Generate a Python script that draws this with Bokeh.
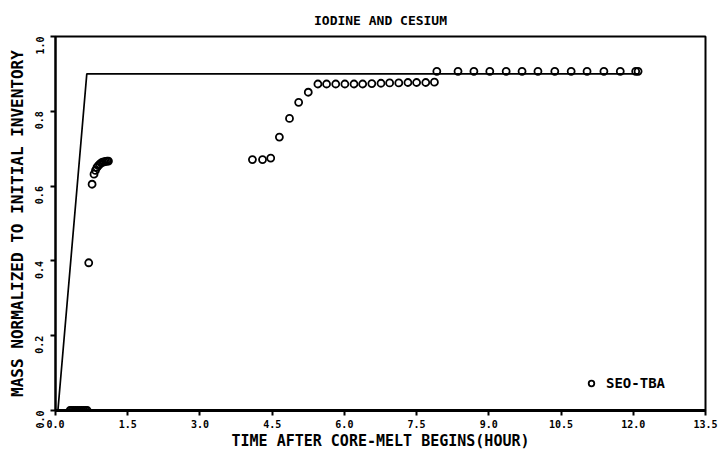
import math
from bokeh.plotting import figure
from bokeh.models import Range1d, FixedTicker, Legend, LegendItem
from bokeh.embed import file_html
from bokeh.resources import INLINE

# Calculated release curve (fraction of initial inventory vs hours)
calc_time = [0.05, 0.65, 12.12]
calc_mass = [0.0, 0.9, 0.9]

# SEO-TBA results
seo_time = [0.30, 0.34, 0.38, 0.42, 0.46, 0.50, 0.54, 0.58, 0.62, 0.66,
            0.69, 0.76,
            0.80, 0.83, 0.86, 0.89, 0.92, 0.95, 0.98, 1.01, 1.04, 1.07, 1.10,
            4.09, 4.30, 4.47, 4.65, 4.86, 5.05, 5.25,
            5.45, 5.63, 5.82, 6.01, 6.20, 6.38, 6.57, 6.76, 6.94, 7.13,
            7.32, 7.50, 7.69, 7.87,
            7.92, 8.36, 8.69, 9.02, 9.36, 9.69, 10.02, 10.37, 10.71, 11.04,
            11.39, 11.73, 12.05, 12.10]
seo_mass = [0.0, 0.0, 0.0, 0.0, 0.0, 0.0, 0.0, 0.0, 0.0, 0.0,
            0.395, 0.605,
            0.632, 0.642, 0.650, 0.655, 0.659, 0.662, 0.664, 0.665, 0.666, 0.667, 0.667,
            0.671, 0.671, 0.675, 0.731, 0.781, 0.824, 0.851,
            0.873, 0.873, 0.873, 0.873, 0.873, 0.873, 0.874, 0.875, 0.876, 0.876,
            0.877, 0.877, 0.877, 0.878,
            0.907, 0.907, 0.907, 0.907, 0.907, 0.907, 0.907, 0.907, 0.907, 0.907,
            0.907, 0.907, 0.907, 0.907]

x_ticks = [0.0, 1.5, 3.0, 4.5, 6.0, 7.5, 9.0, 10.5, 12.0, 13.5]
x_tick_labels = ["0.0", "1.5", "3.0", "4.5", "6.0", "7.5", "9.0", "10.5", "12.0", "13.5"]
y_ticks = [0.0, 0.2, 0.4, 0.6, 0.8, 1.0]
y_tick_labels = ["0.0", "0.2", "0.4", "0.6", "0.8", "1.0"]

FONT = "DejaVu Sans Mono"

p = figure(width=724, height=453, output_backend="svg", toolbar_location=None,
           x_range=Range1d(0, 13.5), y_range=Range1d(0, 1.0),
           min_border_left=55, min_border_right=19,
           min_border_top=36, min_border_bottom=43,
           title="IODINE AND CESIUM")

p.title.align = "center"
p.title.text_font = FONT
p.title.text_font_size = "13px"
p.title.text_font_style = "bold"
p.title.text_color = "black"
p.title.standoff = 17

p.grid.visible = False
p.outline_line_color = "black"
p.outline_line_width = 2
p.background_fill_color = "white"
p.border_fill_color = "white"

xa = p.xaxis[0]
xa.ticker = FixedTicker(ticks=x_ticks)
xa.major_label_overrides = dict(zip(x_ticks, x_tick_labels))
xa.axis_label = "TIME AFTER CORE-MELT BEGINS(HOUR)"
xa.axis_line_width = 3

ya = p.yaxis[0]
ya.ticker = FixedTicker(ticks=y_ticks)
ya.major_label_overrides = dict(zip(y_ticks, y_tick_labels))
ya.major_label_orientation = math.pi / 2
ya.axis_label = "MASS NORMALIZED TO INITIAL INVENTORY"
ya.axis_line_width = 2

for ax in (xa, ya):
    ax.axis_line_color = "black"
    ax.major_tick_line_color = "black"
    ax.major_tick_line_width = 2
    ax.major_tick_out = 5
    ax.major_tick_in = 0
    ax.minor_tick_line_color = None
    ax.major_label_text_font = FONT
    ax.major_label_text_font_style = "bold"
    ax.major_label_text_font_size = "10px"
    ax.major_label_text_color = "black"
    ax.major_label_standoff = 4
    ax.axis_label_text_font = FONT
    ax.axis_label_text_font_style = "bold"
    ax.axis_label_text_color = "black"

ya.major_label_standoff = 11
xa.axis_label_text_font_size = "15px"
xa.axis_label_standoff = 1
ya.axis_label_text_font_size = "16px"
ya.axis_label_standoff = 2

p.line(calc_time, calc_mass, line_color="black", line_width=1.7)

seo = p.scatter(seo_time, seo_mass, marker="circle", size=7,
                line_color="black", line_width=1.8, fill_color=None)

legend = Legend(items=[LegendItem(label="SEO-TBA", renderers=[seo])],
                location=(529, 19), orientation="vertical",
                background_fill_alpha=0, border_line_color=None,
                padding=0, margin=0, glyph_width=14, glyph_height=14,
                label_standoff=8, label_height=14,
                label_text_font=FONT, label_text_font_style="bold",
                label_text_font_size="14px", label_text_color="black")
p.add_layout(legend, "center")

open("out.html", "w").write(file_html(p, INLINE))
